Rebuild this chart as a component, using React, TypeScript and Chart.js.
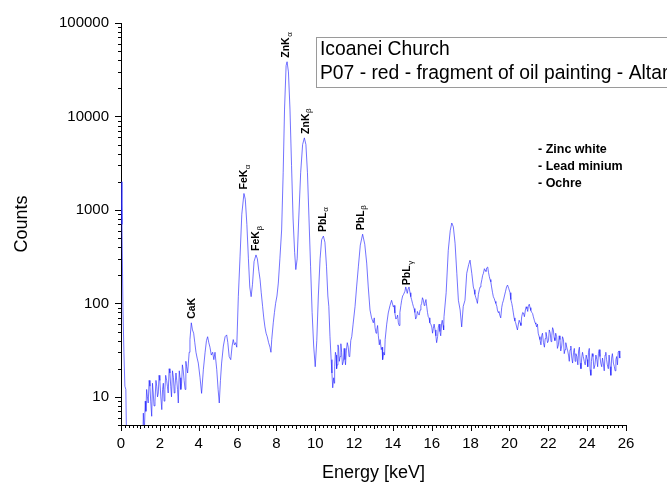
import React, { useEffect, useRef } from 'react';
import { Chart, registerables } from 'chart.js';

Chart.register(...registerables);

// Energy channels (keV) and counts
const energies = [
  0.0, 0.05, 0.1, 0.15, 0.2, 0.25, 0.3, 0.5, 0.8, 1.1,
  1.15, 1.2, 1.25, 1.32, 1.4, 1.49, 1.58, 1.66, 1.75, 1.84,
  1.92, 2.0, 2.05, 2.1, 2.18, 2.26, 2.35, 2.43, 2.52, 2.6,
  2.7, 2.78, 2.87, 2.95, 3.04, 3.12, 3.2, 3.3, 3.38, 3.47,
  3.55, 3.62, 3.68, 3.74, 3.8, 3.86, 3.92, 3.98, 4.07, 4.15,
  4.24, 4.33, 4.4, 4.46, 4.52, 4.58, 4.65, 4.72, 4.78, 4.84,
  4.93, 5.0, 5.06, 5.12, 5.18, 5.27, 5.36, 5.44, 5.5, 5.57,
  5.65, 5.72, 5.78, 5.84, 5.9, 5.96, 6.04, 6.13, 6.22, 6.33,
  6.4, 6.48, 6.56, 6.63, 6.7, 6.77, 6.85, 6.95, 7.02, 7.1,
  7.16, 7.22, 7.29, 7.35, 7.41, 7.47, 7.53, 7.6, 7.67, 7.72,
  7.76, 7.84, 7.9, 7.96, 8.03, 8.1, 8.18, 8.27, 8.35, 8.42,
  8.5, 8.55, 8.62, 8.7, 8.78, 8.86, 8.94, 9.0, 9.07, 9.15,
  9.25, 9.35, 9.44, 9.52, 9.6, 9.68, 9.76, 9.84, 9.92, 10.0,
  10.08, 10.16, 10.25, 10.33, 10.42, 10.5, 10.58, 10.65, 10.7, 10.76,
  10.82, 10.9, 10.95, 11.0, 11.07, 11.13, 11.2, 11.28, 11.36, 11.45,
  11.53, 11.6, 11.7, 11.78, 11.88, 11.95, 12.05, 12.13, 12.22, 12.32,
  12.44, 12.55, 12.65, 12.73, 12.82, 12.9, 12.99, 13.08, 13.17, 13.25,
  13.34, 13.4, 13.47, 13.53, 13.6, 13.68, 13.76, 13.85, 13.93, 14.02,
  14.1, 14.2, 14.28, 14.36, 14.45, 14.55, 14.62, 14.7, 14.78, 14.88,
  14.96, 15.05, 15.13, 15.22, 15.3, 15.4, 15.48, 15.57, 15.65, 15.74,
  15.82, 15.9, 16.0, 16.08, 16.17, 16.25, 16.34, 16.42, 16.51, 16.58,
  16.63, 16.74, 16.85, 16.95, 17.03, 17.11, 17.2, 17.29, 17.37, 17.46,
  17.54, 17.62, 17.71, 17.8, 17.9, 17.97, 18.06, 18.14, 18.22, 18.31,
  18.4, 18.49, 18.58, 18.66, 18.75, 18.83, 18.92, 19.0, 19.08, 19.17,
  19.26, 19.35, 19.42, 19.5, 19.6, 19.69, 19.8, 19.9, 20.03, 20.12,
  20.2, 20.28, 20.37, 20.46, 20.55, 20.63, 20.72, 20.82, 20.9, 20.97,
  21.06, 21.15, 21.23, 21.32, 21.4, 21.48, 21.57, 21.66, 21.75, 21.84,
  21.92, 22.01, 22.1, 22.18, 22.26, 22.34, 22.43, 22.52, 22.6, 22.69,
  22.78, 22.86, 22.95, 23.04, 23.12, 23.21, 23.3, 23.38, 23.47, 23.56,
  23.64, 23.72, 23.8, 23.9, 24.0, 24.07, 24.15, 24.22, 24.3, 24.4,
  24.5, 24.58, 24.66, 24.75, 24.83, 24.92, 25.0, 25.09, 25.18, 25.26,
  25.35, 25.44, 25.52, 25.6, 25.68,
];

const counts = [
  2000, 700, 90, 30, 13, 12, 2, 1, 1, 2,
  6.7, 4, 9, 12, 8.6, 13, 6.2, 11, 9, 13,
  11, 15, 10, 7.3, 14, 12, 15, 11, 18, 10,
  16, 13, 15, 8.6, 16, 14, 19.5, 12, 21, 23,
  41, 62, 52, 48, 38, 30, 26, 23, 16, 10.9,
  19.5, 30, 40, 44, 38, 34, 28, 30, 25, 30,
  19.5, 12, 8.6, 15, 23, 35, 44, 46, 38, 27,
  25, 35, 41, 36, 38, 34, 118, 320, 900, 1500,
  1300, 700, 300, 150, 118, 160, 280, 330, 300, 220,
  180, 130, 93, 70, 56, 48, 44, 38, 34, 30,
  41, 62, 80, 100, 120, 165, 300, 610, 2500, 12000,
  35000, 38500, 30000, 12000, 3000, 800, 350, 230, 300, 800,
  2500, 5000, 5900, 5000, 2500, 800, 250, 80, 35, 21,
  40, 120, 300, 480, 525, 450, 250, 120, 93, 44,
  25, 12.5, 16, 21, 28, 22, 34, 27, 30, 24,
  25, 31, 34, 28, 44, 60, 93, 150, 246, 420,
  550, 430, 270, 150, 85, 70, 62, 55, 52, 45,
  41, 32, 25, 30, 41, 60, 79, 95, 108, 92,
  79, 70, 62, 80, 108, 125, 135, 139, 142, 130,
  110, 93, 80, 72, 78, 85, 100, 108, 100, 93,
  72, 62, 56, 54, 52, 38, 56, 50, 62, 58,
  72, 130, 370, 600, 725, 660, 440, 210, 108, 85,
  56, 93, 108, 210, 260, 290, 210, 150, 125, 108,
  125, 150, 180, 210, 225, 240, 215, 180, 150, 118,
  105, 93, 80, 75, 90, 108, 135, 157, 130, 100,
  79, 65, 56, 60, 62, 72, 79, 85, 88, 93,
  90, 80, 72, 62, 56, 48, 41, 45, 38, 42,
  44, 40, 48, 45, 52, 40, 44, 36, 41, 35,
  41, 32, 34, 28, 32, 26, 30, 24, 27, 31,
  23, 26, 27, 22, 25, 30, 19.5, 24, 27, 22,
  25, 29, 27, 21, 23, 28, 25, 20, 21, 26,
  23, 19, 27, 30, 26,
];

const noiseEnergies = [
  1.28, 1.36, 1.45, 1.53, 1.62, 1.7, 1.8, 1.88, 1.96, 2.14,
  2.22, 2.3, 2.39, 2.48, 2.56, 2.65, 2.74, 2.83, 2.91, 3.0,
  3.08, 3.16, 3.25, 3.34, 3.43, 3.51,
  10.86, 10.98, 11.04, 11.1, 11.17, 11.24, 11.32, 11.4, 11.49, 11.56,
  11.65, 11.74, 11.83,
  13.04, 13.13, 13.21, 13.3, 13.44, 13.57,
  14.06, 14.15, 14.24, 14.32, 14.41, 14.5, 14.66, 14.74, 14.83, 14.92,
  15.01, 15.09, 15.17, 15.26, 15.35, 15.44, 15.52, 15.61, 15.7, 15.78,
  15.86, 15.95, 16.04, 16.12, 16.21, 16.3, 16.38, 16.46, 16.54, 16.61,
  18.18, 18.27, 18.35, 18.45, 18.53, 18.62, 18.71, 18.79, 18.88, 18.96,
  19.04, 19.13, 19.22, 19.3, 19.38, 19.46, 19.55, 19.64, 19.74, 19.85,
  19.96, 20.07, 20.16, 20.24, 20.32, 20.41, 20.5, 20.59, 20.68, 20.77,
  20.86, 20.94, 21.02, 21.1, 21.19, 21.28, 21.36,
  21.44, 21.53, 21.62, 21.7, 21.8, 21.88, 21.96, 22.05, 22.14, 22.22,
  22.3, 22.38, 22.47, 22.56, 22.64, 22.73, 22.82, 22.9, 23.0, 23.08,
  23.16, 23.25, 23.34, 23.42, 23.52, 23.6, 23.68, 23.76, 23.85, 23.95,
  24.03, 24.11, 24.19, 24.26, 24.35, 24.45, 24.54, 24.62, 24.7, 24.79,
  24.88, 24.96, 25.04, 25.13, 25.22, 25.3, 25.4, 25.48, 25.56, 25.64,
];

const noiseCounts = [
  7, 10, 15, 9, 14, 8, 15, 10, 17, 12,
  9, 17, 13, 20, 13, 19, 11, 18, 12, 19,
  12, 22, 15, 24, 18, 30,
  18, 14, 30, 20, 36, 24, 37, 22, 33, 22,
  38, 27, 40,
  70, 48, 58, 36, 34, 28,
  95, 68, 75, 58, 95, 120, 150, 128, 150, 118,
  100, 88, 68, 82, 75, 95, 115, 95, 110, 80,
  70, 60, 48, 60, 45, 44, 60, 45, 66, 52,
  140, 115, 100, 140, 160, 200, 235, 220, 245, 195,
  170, 130, 112, 100, 85, 82, 70, 100, 120, 150,
  145, 110, 90, 70, 62, 52, 66, 58, 80, 72,
  92, 82, 98, 84, 78, 66, 60,
  60, 44, 36, 48, 34, 49, 38, 52, 39, 55,
  43, 48, 33, 45, 31, 44, 29, 38, 31, 24,
  35, 23, 33, 29, 22, 34, 20, 30, 24, 28,
  21, 33, 17, 29, 20, 28, 21, 32, 23, 26,
  19, 30, 22, 28, 17, 29, 21, 25, 22, 31,
];

const xTickValues = [0, 2, 4, 6, 8, 10, 12, 14, 16, 18, 20, 22, 24, 26];
const yTickValues = [10, 100, 1000, 10000, 100000];

const peakNames = ['CaK', 'FeK', 'FeK', 'ZnK', 'ZnK', 'PbL', 'PbL', 'PbL'];
const peakSubs = ['', 'α', 'β', 'α', 'β', 'α', 'β', 'γ'];
const peakEnergies = [3.68, 6.35, 6.98, 8.52, 9.52, 10.38, 12.34, 14.75];
const peakHeights = [62, 1500, 330, 38500, 5900, 525, 550, 142];

const titleLines = ['Icoanei Church', 'P07 - red - fragment of oil painting - Altar'];
const noteLines = ['- Zinc white', '- Lead minium', '- Ochre'];

const FONT = '"Liberation Sans", Arial, sans-serif';

const decorPlugin = {
  id: 'decor',
  afterDraw(chart: any) {
    const { ctx, chartArea, scales } = chart;
    const xs = scales.x;
    const ys = scales.y;
    ctx.save();
    ctx.strokeStyle = '#000';
    ctx.lineWidth = 1;
    ctx.beginPath();
    for (let i = 0; i <= 130; i++) {
      const v = i * 0.2;
      const px = Math.round(xs.getPixelForValue(v)) + 0.5;
      const len = i % 10 === 0 ? 6 : i % 5 === 0 ? 4 : 3;
      ctx.moveTo(px, chartArea.bottom);
      ctx.lineTo(px, chartArea.bottom + len);
    }
    for (let d = 0; d <= 5; d++) {
      for (let m = 1; m <= 9; m++) {
        const v = m * Math.pow(10, d);
        if (v < 5 || v > 100000) continue;
        const py = Math.round(ys.getPixelForValue(v)) + 0.5;
        const len = m === 1 ? 6 : 3;
        ctx.moveTo(chartArea.left - len, py);
        ctx.lineTo(chartArea.left, py);
      }
    }
    ctx.stroke();

    ctx.fillStyle = '#000';
    for (let i = 0; i < peakNames.length; i++) {
      const px = xs.getPixelForValue(peakEnergies[i]);
      const py = ys.getPixelForValue(peakHeights[i]) - 4;
      ctx.save();
      ctx.translate(px, py);
      ctx.rotate(-Math.PI / 2);
      ctx.font = 'bold 10.5px ' + FONT;
      ctx.textAlign = 'left';
      ctx.textBaseline = 'middle';
      ctx.fillText(peakNames[i], 0, 0);
      const w = ctx.measureText(peakNames[i]).width;
      if (peakSubs[i]) {
        ctx.font = '8px ' + FONT;
        ctx.fillText(peakSubs[i], w + 0.5, 3);
      }
      ctx.restore();
    }

    ctx.font = 'bold 12.5px ' + FONT;
    ctx.textAlign = 'left';
    ctx.textBaseline = 'middle';
    const noteY = [150, 167, 184];
    noteLines.forEach((t, i) => ctx.fillText(t, 538, noteY[i]));

    ctx.strokeStyle = '#9a9a9a';
    ctx.lineWidth = 1;
    ctx.fillStyle = '#fff';
    ctx.fillRect(316.5, 37.5, 400, 50);
    ctx.strokeRect(316.5, 37.5, 400, 50);
    ctx.fillStyle = '#000';
    ctx.font = '19.3px ' + FONT;
    ctx.fillText(titleLines[0], 320, 50);
    ctx.fillText(titleLines[1], 320, 74);
    ctx.restore();
  },
};

export default function App() {
  const ref = useRef<HTMLCanvasElement>(null);
  useEffect(() => {
    document.body.style.margin = '0';
    const canvas = ref.current!;
    const pts = energies
      .map((e, i) => ({ x: e, y: counts[i] }))
      .concat(noiseEnergies.map((e, i) => ({ x: e, y: noiseCounts[i] })))
      .sort((a, b) => a.x - b.x);
    const chart = new Chart(canvas, {
      type: 'line',
      data: {
        datasets: [
          {
            data: pts,
            borderColor: 'rgba(40,40,255,0.65)',
            borderWidth: 1,
            pointRadius: 0,
            tension: 0,
            fill: false,
          },
        ],
      },
      options: {
        animation: false,
        responsive: false,
        devicePixelRatio: 1,
        layout: { padding: { left: 0, right: 41, top: 23, bottom: 0 } },
        plugins: { legend: { display: false }, tooltip: { enabled: false } },
        scales: {
          x: {
            type: 'linear',
            min: 0,
            max: 26,
            afterBuildTicks: (s: any) => {
              s.ticks = xTickValues.map((v) => ({ value: v }));
            },
            afterFit: (s: any) => {
              s.height = 62;
            },
            ticks: {
              autoSkip: false,
              maxRotation: 0,
              padding: 4,
              color: '#000',
              font: { family: FONT, size: 15 },
              callback: (v: any) => String(v),
            },
            grid: { display: false, drawTicks: true, tickLength: 6 },
            border: { display: true, color: '#000', width: 1 },
            title: {
              display: true,
              text: 'Energy [keV]',
              color: '#000',
              font: { family: FONT, size: 18 },
              padding: { top: 0, bottom: 3 },
            },
          },
          y: {
            type: 'logarithmic',
            min: 5,
            max: 100000,
            afterBuildTicks: (s: any) => {
              s.ticks = yTickValues.map((v) => ({ value: v }));
            },
            afterFit: (s: any) => {
              s.width = 121;
            },
            ticks: {
              autoSkip: false,
              padding: 6,
              color: '#000',
              font: { family: FONT, size: 15 },
              callback: (v: any) => String(v),
            },
            grid: { display: false, drawTicks: true, tickLength: 6 },
            border: { display: true, color: '#000', width: 1 },
            title: {
              display: true,
              text: 'Counts',
              color: '#000',
              font: { family: FONT, size: 18 },
              padding: { top: 11, bottom: 0 },
            },
          },
        },
      },
      plugins: [decorPlugin],
    });
    return () => chart.destroy();
  }, []);
  return (
    <div style={{ width: 667, height: 487 }}>
      <canvas ref={ref} width={667} height={487} style={{ display: 'block' }} />
    </div>
  );
}
